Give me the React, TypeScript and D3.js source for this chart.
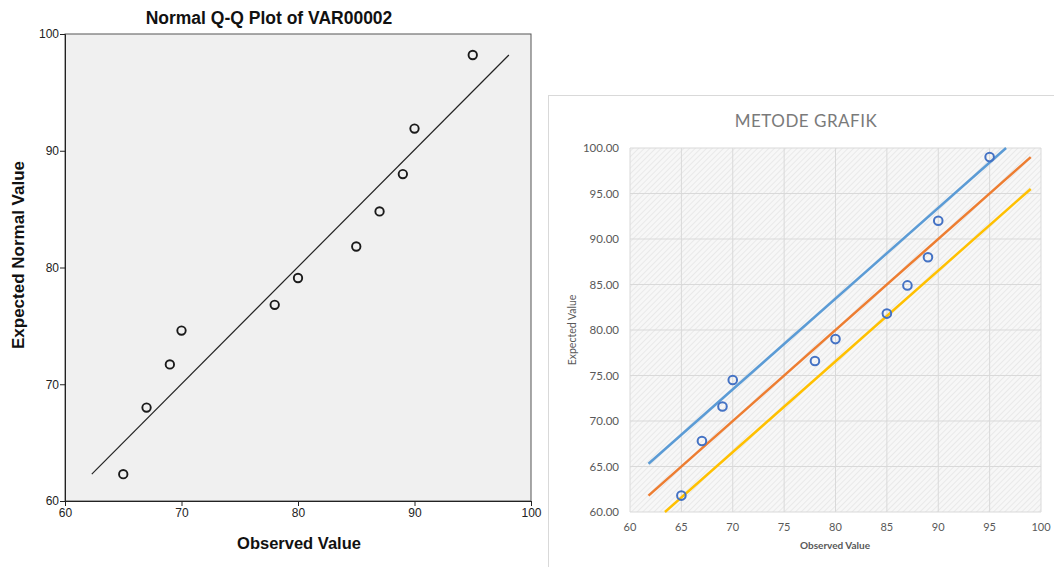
import React, { useRef, useEffect } from 'react';
import * as d3 from 'd3';

// observed scores and expected normal values (SPSS panel)
const observed = [65, 67, 69, 70, 78, 80, 85, 87, 89, 90, 95];
const expectedSpss = [62.3, 68.0, 71.7, 74.6, 76.8, 79.1, 81.8, 84.8, 88.0, 91.9, 98.2];
// excel panel
const expectedExcel = [61.8, 67.8, 71.6, 74.5, 76.6, 79.0, 81.8, 84.9, 88.0, 92.0, 99.0];

const spssLineX = [62.3, 98.1];
const spssLineY = [62.3, 98.2];

const upperX = [61.8, 96.6];
const upperY = [65.3, 100];
const fitX = [61.8, 99];
const fitY = [61.8, 99];
const lowerX = [63.4, 99];
const lowerY = [60, 95.5];

const spssTicks = [60, 70, 80, 90, 100];
const excelXTicks = [60, 65, 70, 75, 80, 85, 90, 95, 100];
const excelYTicks = [60, 65, 70, 75, 80, 85, 90, 95, 100];

function App() {
  const ref = useRef<SVGSVGElement>(null);

  useEffect(() => {
    draw();
  }, []);

  const draw = () => {
    const svg = d3.select(ref.current);
    svg.selectAll('*').remove();

    // ---------- left: SPSS Q-Q plot ----------
    const x = d3.scaleLinear().domain([60, 100]).range([65, 531]);
    const y = d3.scaleLinear().domain([60, 100]).range([501, 34]);
    const left = svg.append('g').style('font-family', '"Liberation Sans", Arial, sans-serif');

    left.append('rect')
      .attr('x', 65).attr('y', 34)
      .attr('width', 466).attr('height', 467)
      .attr('fill', '#f0f0f0')
      .attr('stroke', '#555').attr('stroke-width', 1);

    left.append('text')
      .attr('x', 269).attr('y', 24)
      .attr('text-anchor', 'middle')
      .attr('font-size', 17.5).attr('font-weight', 'bold')
      .attr('fill', '#111')
      .text('Normal Q-Q Plot of VAR00002');

    const xAxis = left.append('g').attr('transform', 'translate(0,501)')
      .call(d3.axisBottom(x).tickValues(spssTicks).tickSize(5).tickPadding(2).tickFormat(d3.format('d')));
    const yAxis = left.append('g').attr('transform', 'translate(65,0)')
      .call(d3.axisLeft(y).tickValues(spssTicks).tickSize(5).tickPadding(1).tickFormat(d3.format('d')));
    [xAxis, yAxis].forEach((a) => {
      a.select('.domain').attr('stroke', '#222');
      a.selectAll('.tick line').attr('stroke', '#222');
      a.selectAll('.tick text').attr('font-size', 12).attr('fill', '#222')
        .style('font-family', '"Liberation Sans", Arial, sans-serif');
    });

    left.append('text')
      .attr('x', 299).attr('y', 549)
      .attr('text-anchor', 'middle')
      .attr('font-size', 16.5).attr('font-weight', 'bold').attr('fill', '#111')
      .text('Observed Value');
    left.append('text')
      .attr('transform', 'translate(24,255) rotate(-90)')
      .attr('text-anchor', 'middle')
      .attr('font-size', 17).attr('font-weight', 'bold').attr('fill', '#111')
      .text('Expected Normal Value');

    left.append('line')
      .attr('x1', x(spssLineX[0])).attr('y1', y(spssLineY[0]))
      .attr('x2', x(spssLineX[1])).attr('y2', y(spssLineY[1]))
      .attr('stroke', '#222').attr('stroke-width', 1.2);

    left.selectAll('circle.pt')
      .data(observed)
      .enter()
      .append('circle')
      .attr('class', 'pt')
      .attr('cx', (d) => x(d))
      .attr('cy', (d, i) => y(expectedSpss[i]))
      .attr('r', 4.2)
      .attr('fill', 'none')
      .attr('stroke', '#1a1a1a')
      .attr('stroke-width', 1.9);

    // ---------- right: Excel chart ----------
    const xe = d3.scaleLinear().domain([60, 100]).range([630, 1041]);
    const ye = d3.scaleLinear().domain([60, 100]).range([512, 148]);
    const right = svg.append('g').style('font-family', 'Lato, "Open Sans", sans-serif');

    right.append('rect')
      .attr('x', 548.5).attr('y', 95.5)
      .attr('width', 520).attr('height', 490)
      .attr('fill', '#fff')
      .attr('stroke', '#d9d9d9');

    const defs = svg.append('defs');
    const pat = defs.append('pattern')
      .attr('id', 'hatch')
      .attr('patternUnits', 'userSpaceOnUse')
      .attr('width', 4).attr('height', 4)
      .attr('patternTransform', 'rotate(45)');
    pat.append('rect').attr('width', 4).attr('height', 4).attr('fill', '#f7f7f7');
    pat.append('line')
      .attr('x1', 0).attr('y1', 0).attr('x2', 0).attr('y2', 4)
      .attr('stroke', '#e0e0e0').attr('stroke-width', 1.2);

    right.append('rect')
      .attr('x', 630).attr('y', 148)
      .attr('width', 411).attr('height', 364)
      .attr('fill', 'url(#hatch)');

    right.selectAll('line.vg')
      .data(excelXTicks)
      .enter()
      .append('line')
      .attr('class', 'vg')
      .attr('x1', (d) => xe(d)).attr('x2', (d) => xe(d))
      .attr('y1', 148).attr('y2', 512)
      .attr('stroke', '#d9d9d9').attr('stroke-width', 1);
    right.selectAll('line.hg')
      .data(excelYTicks)
      .enter()
      .append('line')
      .attr('class', 'hg')
      .attr('y1', (d) => ye(d)).attr('y2', (d) => ye(d))
      .attr('x1', 630).attr('x2', 1041)
      .attr('stroke', '#d9d9d9').attr('stroke-width', 1);

    right.selectAll('text.xl')
      .data(excelXTicks)
      .enter()
      .append('text')
      .attr('class', 'xl')
      .attr('x', (d) => xe(d)).attr('y', 531)
      .attr('text-anchor', 'middle')
      .attr('font-size', 11).attr('fill', '#595959')
      .text((d) => d);
    right.selectAll('text.yl')
      .data(excelYTicks)
      .enter()
      .append('text')
      .attr('class', 'yl')
      .attr('x', 619).attr('y', (d) => ye(d) + 4)
      .attr('text-anchor', 'end')
      .attr('font-size', 11.5).attr('fill', '#595959')
      .text((d) => d3.format('.2f')(d));

    right.append('text')
      .attr('x', 806).attr('y', 127)
      .attr('text-anchor', 'middle')
      .attr('font-size', 17).attr('fill', '#7a7a7a')
      .attr('letter-spacing', 0.5)
      .text('METODE GRAFIK');
    right.append('text')
      .attr('x', 835).attr('y', 549)
      .attr('text-anchor', 'middle')
      .attr('font-size', 10).attr('font-weight', 'bold').attr('fill', '#595959')
      .text('Observed Value');
    right.append('text')
      .attr('transform', 'translate(576,330) rotate(-90)')
      .attr('text-anchor', 'middle')
      .attr('font-size', 10.5).attr('fill', '#595959')
      .text('Expected Value');

    const lines = [
      { xs: upperX, ys: upperY, color: '#5b9bd5' },
      { xs: fitX, ys: fitY, color: '#ed7d31' },
      { xs: lowerX, ys: lowerY, color: '#ffc000' },
    ];
    right.selectAll('line.fit')
      .data(lines)
      .enter()
      .append('line')
      .attr('class', 'fit')
      .attr('x1', (d) => xe(d.xs[0])).attr('y1', (d) => ye(d.ys[0]))
      .attr('x2', (d) => xe(d.xs[1])).attr('y2', (d) => ye(d.ys[1]))
      .attr('stroke', (d) => d.color)
      .attr('stroke-width', 2.5);

    right.selectAll('circle.ept')
      .data(observed)
      .enter()
      .append('circle')
      .attr('class', 'ept')
      .attr('cx', (d) => xe(d))
      .attr('cy', (d, i) => ye(expectedExcel[i]))
      .attr('r', 4.3)
      .attr('fill', 'none')
      .attr('stroke', '#4472c4')
      .attr('stroke-width', 2);
  };

  return (
    <div style={{ position: 'absolute', left: 0, top: 0 }}>
      <svg ref={ref} width={1054} height={567} style={{ display: 'block', background: '#fff' }}></svg>
    </div>
  );
}

export default App;
